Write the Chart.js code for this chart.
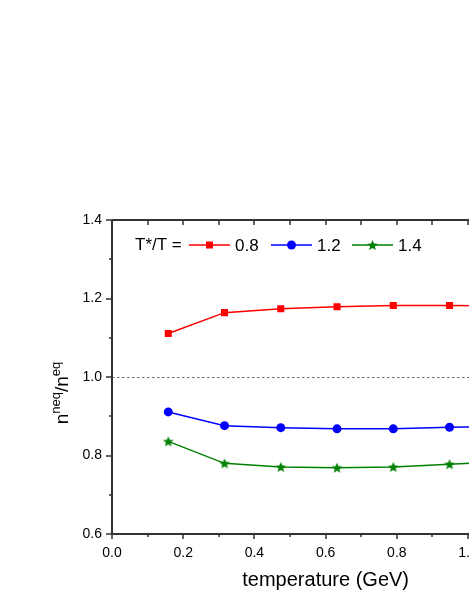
<!DOCTYPE html>
<html>
<head>
<meta charset="utf-8">
<script src="https://cdn.jsdelivr.net/npm/chart.js@4.4.0/dist/chart.umd.min.js"></script>
<style>
  html, body { margin: 0; padding: 0; background: #fff; overflow: hidden; }
  #wrap { position: absolute; left: 0; top: 0; width: 560px; height: 607px; }
</style>
</head>
<body>
<div id="wrap"><canvas id="myChart" width="560" height="607"></canvas></div>
<script>
// temperature (GeV)
const temps = [0.158, 0.316, 0.474, 0.632, 0.790, 0.948, 1.106]
// n_neq / n_eq for each T*/T
const ratio08 = [1.111, 1.164, 1.174, 1.179, 1.182, 1.182, 1.181]
const ratio12 = [0.911, 0.876, 0.871, 0.868, 0.868, 0.872, 0.874]
const ratio14 = [0.836, 0.780, 0.771, 0.769, 0.771, 0.778, 0.785]
const seriesNames = ['0.8', '1.2', '1.4']
const xTicks = [0.0, 0.2, 0.4, 0.6, 0.8, 1.0, 1.2]
const yTicks = [0.6, 0.8, 1.0, 1.2, 1.4]

const FONT = '"Liberation Sans", Arial, sans-serif'
const RED = '#ff0000', BLUE = '#0000ff', GREEN = '#008000'

function pts(ys){
  return temps.map((t, i) => ({x: t, y: ys[i]}))
}

// filled five point star for the green series
function starPath(ctx, cx, cy, R){
  const r = R * 0.45
  ctx.beginPath()
  for (let i = 0; i < 10; i++) {
    const a = -Math.PI / 2 + i * Math.PI / 5
    const rr = i % 2 ? r : R
    ctx.lineTo(cx + rr * Math.cos(a), cy + rr * Math.sin(a))
  }
  ctx.closePath()
}
const starImg = document.createElement('canvas')
starImg.width = 12; starImg.height = 12
{
  const sc = starImg.getContext('2d')
  sc.fillStyle = GREEN
  starPath(sc, 6, 6.5, 5.6)
  sc.fill()
}

const framePlugin = {
  id: 'frame',
  beforeDatasetsDraw(chart){
    const ctx = chart.ctx, y = chart.scales.y
    const a = chart.chartArea
    // dashed reference line at 1.0
    const y1 = Math.round(y.getPixelForValue(1.0)) + 0.5
    ctx.save()
    ctx.strokeStyle = '#444'
    ctx.lineWidth = 0.8
    ctx.setLineDash([2.5, 2.5])
    ctx.beginPath()
    ctx.moveTo(a.left, y1); ctx.lineTo(a.right, y1)
    ctx.stroke()
    ctx.restore()
  },
  afterDraw(chart){
    const ctx = chart.ctx, x = chart.scales.x, y = chart.scales.y
    const a = chart.chartArea
    ctx.save()
    ctx.strokeStyle = '#333'
    ctx.lineWidth = 2
    ctx.beginPath()
    ctx.moveTo(a.left, a.top); ctx.lineTo(a.right, a.top)
    ctx.moveTo(a.left, a.top); ctx.lineTo(a.left, a.bottom)
    ctx.moveTo(a.left - 1, a.bottom); ctx.lineTo(a.right, a.bottom)
    ctx.stroke()
    ctx.lineWidth = 1.5
    ctx.beginPath()
    // y ticks
    for (let v = 0.6; v <= 1.4001; v += 0.1) {
      const py = Math.round(y.getPixelForValue(v))
      const major = Math.round(v * 10) % 2 === 0
      ctx.moveTo(a.left, py); ctx.lineTo(a.left - (major ? 6 : 3), py)
    }
    // x ticks bottom (out) and top (in)
    for (let v = 0; v <= 1.2001; v += 0.1) {
      const px = Math.round(x.getPixelForValue(v))
      const major = Math.round(v * 10) % 2 === 0
      ctx.moveTo(px, a.bottom); ctx.lineTo(px, a.bottom + (major ? 5 : 3))
      ctx.moveTo(px, a.top); ctx.lineTo(px, a.top + 5)
    }
    ctx.stroke()

    // y axis title n^neq/n^eq
    ctx.translate(62, 393)
    ctx.rotate(-Math.PI / 2)
    ctx.fillStyle = '#000'
    ctx.textBaseline = 'alphabetic'
    const big = '19px ' + FONT, small = '13px ' + FONT
    const parts = [['n', big, 0], ['neq', small, -8], ['/n', big, 0], ['eq', small, -8]]
    let w = 0
    parts.forEach(p => { ctx.font = p[1]; w += ctx.measureText(p[0]).width })
    let cx = -w / 2
    parts.forEach(p => {
      ctx.font = p[1]
      ctx.fillText(p[0], cx, 6 + p[2])
      cx += ctx.measureText(p[0]).width
    })
    ctx.restore()

    // legend
    ctx.save()
    ctx.fillStyle = '#000'
    ctx.font = '17px ' + FONT
    ctx.textBaseline = 'middle'
    const ly = 245
    ctx.fillText('T*/T =', 135, ly)
    const cols = [RED, BLUE, GREEN]
    const starts = [189, 271, 352]
    cols.forEach((c, i) => {
      const sx = starts[i]
      ctx.strokeStyle = c
      ctx.lineWidth = 1.5
      ctx.beginPath(); ctx.moveTo(sx, ly); ctx.lineTo(sx + 41, ly); ctx.stroke()
      ctx.fillStyle = c
      const mx = sx + 20.5
      if (i === 0) ctx.fillRect(mx - 3.5, ly - 3.5, 7, 7)
      else if (i === 1) { ctx.beginPath(); ctx.arc(mx, ly, 4.5, 0, Math.PI * 2); ctx.fill() }
      else { starPath(ctx, mx, ly + 0.5, 5.6); ctx.fill() }
      ctx.fillStyle = '#000'
      ctx.fillText(seriesNames[i], sx + 46, ly + 1)
    })
    ctx.restore()
  }
}

const ctx = document.getElementById('myChart')
new Chart(ctx, {
  type: 'line',
  data: {
    datasets: [
      { label: seriesNames[0], data: pts(ratio08), borderColor: RED, backgroundColor: RED,
        pointStyle: 'rect', pointRadius: 5, borderWidth: 1.5, pointBorderWidth: 0 },
      { label: seriesNames[1], data: pts(ratio12), borderColor: BLUE, backgroundColor: BLUE,
        pointStyle: 'circle', pointRadius: 4.5, borderWidth: 1.5, pointBorderWidth: 0 },
      { label: seriesNames[2], data: pts(ratio14), borderColor: GREEN, backgroundColor: GREEN,
        pointStyle: starImg, pointRadius: 6, borderWidth: 1.5, pointBorderWidth: 0 }
    ]
  },
  options: {
    responsive: false,
    animation: false,
    events: [],
    layout: { padding: { top: 220, right: 20, left: 0, bottom: 0 } },
    plugins: { legend: { display: false }, tooltip: { enabled: false } },
    scales: {
      x: {
        type: 'linear', min: 0, max: 1.2,
        afterBuildTicks: s => { s.ticks = xTicks.map(v => ({value: v})) },
        afterFit: s => { s.height = 73 },
        grid: { display: false, drawTicks: false },
        border: { display: false },
        ticks: { color: '#000', padding: 11, font: { family: FONT, size: 14 },
          callback: v => v.toFixed(1) },
        title: { display: true, text: 'temperature (GeV)', color: '#000',
          font: { family: FONT, size: 20 }, padding: { top: 0, bottom: 15 } }
      },
      y: {
        type: 'linear', min: 0.6, max: 1.4,
        afterBuildTicks: s => { s.ticks = yTicks.map(v => ({value: v})) },
        afterFit: s => { s.width = 112 },
        grid: { display: false, drawTicks: false },
        border: { display: false },
        ticks: { color: '#000', padding: 10, font: { family: FONT, size: 14 },
          callback: v => v.toFixed(1) }
      }
    }
  },
  plugins: [framePlugin]
})
</script>
</body>
</html>
